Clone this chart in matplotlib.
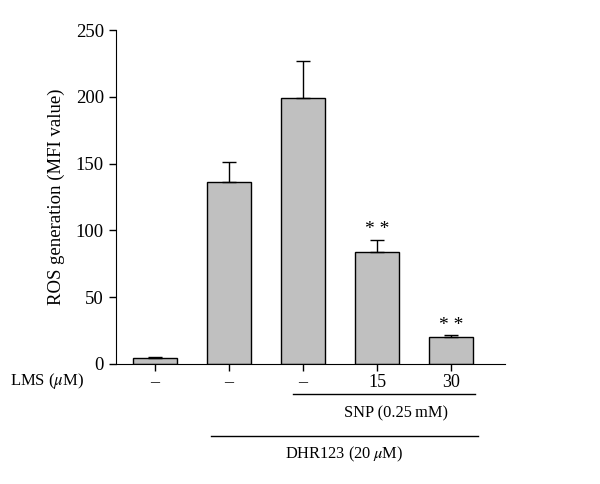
import matplotlib.pyplot as plt
import matplotlib as mpl
import matplotlib.transforms as mtransforms

mpl.rcParams['font.family'] = 'Liberation Serif'
mpl.rcParams['mathtext.fontset'] = 'stix'
mpl.rcParams['font.size'] = 11

lms_labels = ['\u2013', '\u2013', '\u2013', '15', '30']
ros_mean = [4.5, 136, 199, 84, 20]
ros_err = [1.0, 15, 28, 9, 1.5]
significant = [False, False, False, True, True]

fig = plt.figure(figsize=(6, 4.84), dpi=100)
ax = fig.add_axes([0.193, 0.248, 0.649, 0.690])

x = list(range(len(ros_mean)))
ax.bar(x, ros_mean, width=0.59, color='#c0c0c0', edgecolor='black', linewidth=1.0,
       yerr=[[0] * len(ros_err), ros_err], capsize=5,
       error_kw=dict(elinewidth=1.0, capthick=1.0, ecolor='black'))

for i, sig in enumerate(significant):
    if sig:
        ax.text(x[i], ros_mean[i] + ros_err[i] + 1, '* *', ha='center', va='bottom', fontsize=14)

ax.set_xlim(-0.53, 4.73)
ax.set_ylim(0, 250)
ax.set_yticks([0, 50, 100, 150, 200, 250])
ax.set_xticks(x)
ax.set_xticklabels(lms_labels)
ax.tick_params(axis='both', direction='out', length=5, width=1)
ax.tick_params(axis='y', labelsize=13.5)
ax.tick_params(axis='x', labelsize=13, pad=2)
ax.spines['top'].set_visible(False)
ax.spines['right'].set_visible(False)
ax.set_ylabel('ROS generation (MFI value)', fontsize=13.5, labelpad=8)

trans = mtransforms.blended_transform_factory(ax.transData, ax.transAxes)
ax.text(-0.95, -0.05, 'LMS ($\\mu$M)', transform=trans, ha='right', va='center', fontsize=12)

ax.plot([1.86, 4.32], [-0.09, -0.09], color='black', lw=1, transform=trans, clip_on=False)
ax.text(3.26, -0.147, 'SNP (0.25\u2009mM)', transform=trans, ha='center', va='center', fontsize=11.8)
ax.plot([0.76, 4.36], [-0.216, -0.216], color='black', lw=1, transform=trans, clip_on=False)
ax.text(2.56, -0.272, 'DHR123 (20\u2009$\\mu$M)', transform=trans, ha='center', va='center', fontsize=11.8)

fig.savefig('out.png', dpi=100)
